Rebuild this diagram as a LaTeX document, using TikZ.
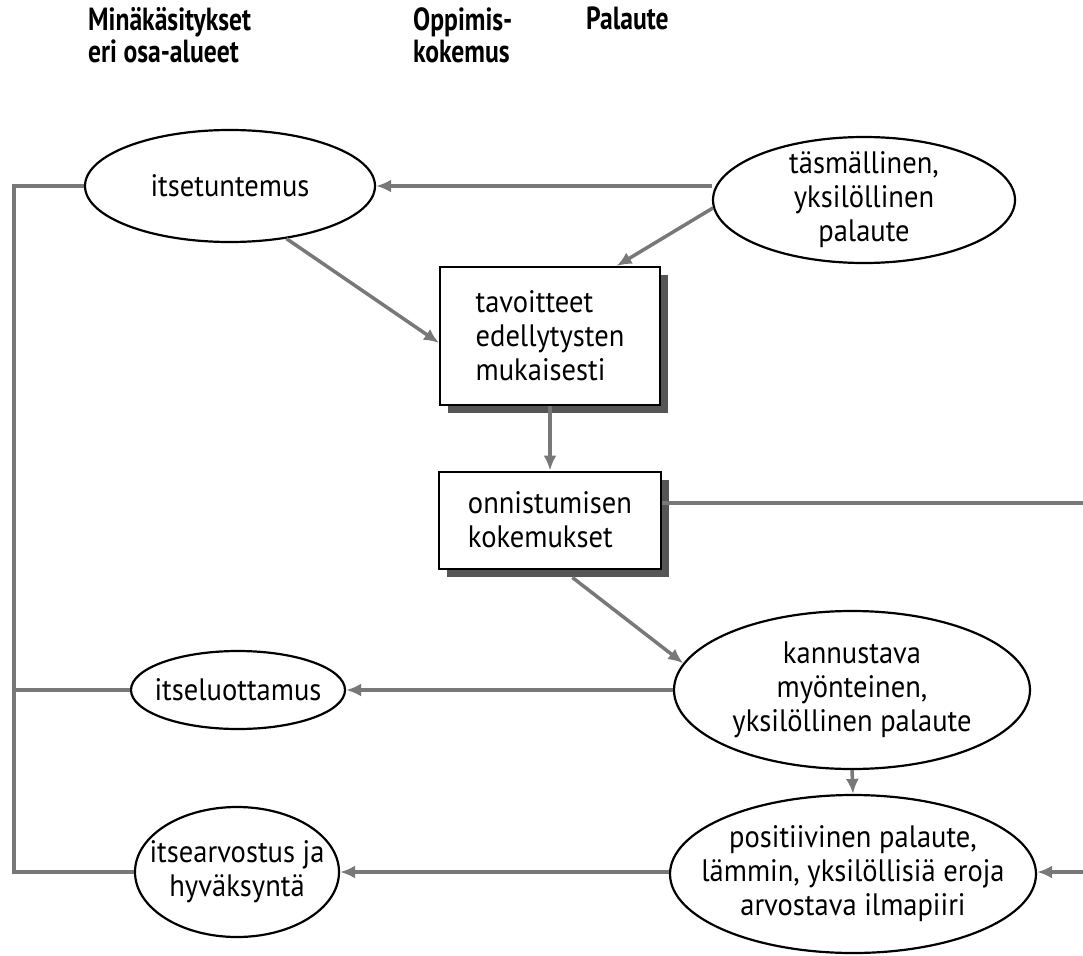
\documentclass[tikz,border=0pt]{standalone}
\usepackage{fontspec}
\setmainfont{PT Sans}[FakeStretch=0.92]
\newfontfamily\hdrfont{PT Sans}[FakeStretch=0.8]
\usetikzlibrary{arrows.meta,calc,shapes.geometric,shadows}
\definecolor{linegray}{RGB}{120,120,120}
\definecolor{shadegray}{RGB}{85,85,85}
\begin{document}
\begin{tikzpicture}[x=1pt,y=-1pt,
  conn/.style={draw=linegray, line width=3.5pt},
  arr/.style={conn,-{Latex[length=15pt,width=13pt]}},
  txt/.style={font=\fontsize{31}{34}\selectfont},
  ell/.style={ellipse, draw, line width=2.2pt, inner xsep=-30pt, inner ysep=-25pt, align=center, fill=white, txt},
  bx/.style={rectangle, draw, line width=2pt, fill=white, align=left, inner sep=0pt, txt,
     drop shadow={shadow xshift=8pt, shadow yshift=-8pt, fill=shadegray, opacity=1}},
  hdr/.style={anchor=north west, align=left, inner sep=0pt, font=\hdrfont\fontsize{32}{32}\selectfont\bfseries}
]
\useasboundingbox (0,0) rectangle (1083,955);

% headers
\node[hdr] (h1) at (88,7) {Minäkäsitykset\\eri osa-alueet};
\node[hdr] (h2) at (413,7) {Oppimis-\\kokemus};
\node[hdr] (h3) at (586,7) {Palaute};

% nodes
\node[ell, minimum width=290pt, minimum height=112pt] (i) at (230,186) {itsetuntemus};
\node[ell, minimum width=302pt, minimum height=126pt] (t) at (864,200) {täsmällinen,\\yksilöllinen\\palaute};
\node[bx, minimum width=220pt, minimum height=138pt] (b1) at (550,336) {tavoitteet\\edellytysten\\mukaisesti};
\node[bx, minimum width=222pt, minimum height=97pt] (b2) at (550,520) {onnistumisen\\kokemukset};
\node[ell, minimum width=356pt, minimum height=158pt] (k) at (852,690) {kannustava\\myönteinen,\\yksilöllinen palaute};
\node[ell, minimum width=214pt, minimum height=78pt] (il) at (238,690) {itseluottamus};
\node[ell, minimum width=366pt, minimum height=158pt] (p) at (853,874) {positiivinen palaute,\\lämmin, yksilöllisiä eroja\\arvostava ilmapiiri};
\node[ell, minimum width=204pt, minimum height=130pt] (ia) at (237,872) {itsearvostus ja\\hyväksyntä};

% left bracket line
\coordinate (L1) at (14,186);
\coordinate (L2) at (14,690);
\coordinate (L3) at (14,872);
\draw[conn] (i.west) -- (L1) -- (L3) -- (ia.west);
\draw[conn] (L2) -- (il.west);

% right loop ends
\coordinate (R1) at (1083,503);
\coordinate (R2) at (1083,872);
\draw[conn] (b2.east |- R1) -- (R1);
\draw[arr] (R2) -- (p.east |- R2);

% arrows
\draw[arr] (t.west |- i.east) -- (i.east);
\draw[arr] (t.183) -- ($(b1.north west)!0.8!(b1.north east)$);
\draw[arr] (i.-43) -- ($(b1.west)+(0,7)$);
\draw[arr] (b1.south) -- (b2.north);
\draw[arr] ($(b2.south west)!0.6!(b2.south east)+(0,8)$) -- (k.171);
\draw[arr] (k.west) -- (il.east);
\draw[arr] (k.south) -- (p.north);
\draw[arr] (p.west |- ia.east) -- (ia.east);
\end{tikzpicture}
\end{document}
